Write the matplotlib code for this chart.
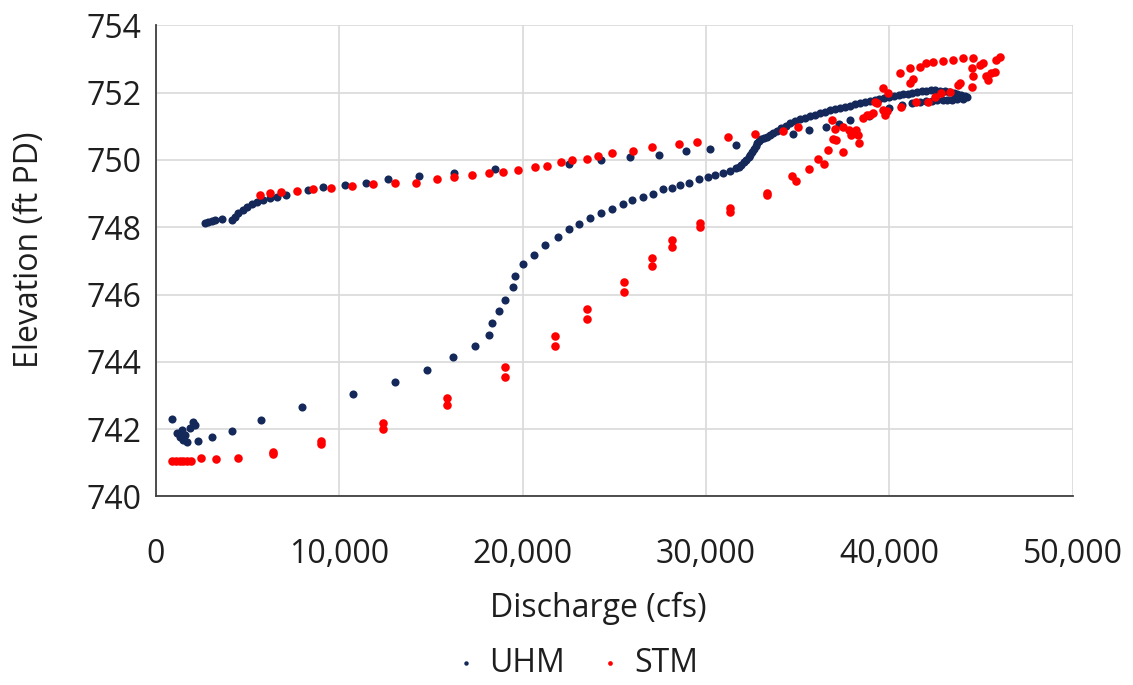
import matplotlib
matplotlib.use("Agg")
import matplotlib.pyplot as plt
from matplotlib.ticker import FuncFormatter, MultipleLocator

# discharge (cfs) / elevation (ft PD)
uhm_q = [870, 1140, 1420, 1320, 1500, 1690, 1600, 1870, 2050, 2140, 2320, 3090,
         4140, 5720, 7970, 10770, 13040, 14770, 16180, 17400, 18180, 18360,
         18710, 19050, 19490, 19580, 20030, 20630, 21230, 21940, 22540, 23080,
         23700, 24300, 24900, 25450, 25990, 26570, 27100, 27630, 28120, 28590,
         29080, 29620, 30080, 30500, 30910, 31300, 31620, 31800, 31930, 32080,
         32200, 32320, 32420, 32510, 32600, 32700, 32790, 32900, 33020, 33150,
         33300, 33480, 33660, 33880, 34110, 34340, 34570, 34840, 35110, 35380,
         35660, 35930, 36200, 36480, 36750, 37020, 37290, 37560, 37840, 38110,
         38380, 38650, 38930, 39200, 39450, 39720, 40000, 40250, 40500, 40750,
         41000, 41250, 41500, 41750, 42000, 42250, 42500, 42750, 43000, 43250,
         43500, 43700, 43900, 44100, 44200,
         44000, 43700, 43400, 43150, 42900, 42600, 42300, 42000, 41650, 41200,
         40700, 40000, 38900, 37840, 37250, 36530, 35620, 34750, 31620, 30220,
         28920, 27440, 25850, 24280, 22540, 18470, 16240, 14340, 12680, 11460,
         10320, 9130, 8320, 7100, 6590, 6230, 5860, 5500, 5230, 4960, 4740,
         4500, 4320, 4140, 3600, 3230, 3050, 2870, 2690]
uhm_z = [742.29, 741.90, 741.98, 741.78, 741.68, 741.63, 741.83, 742.03, 742.22,
         742.12, 741.66, 741.76, 741.95, 742.27, 742.67, 743.05, 743.41, 743.76,
         744.14, 744.47, 744.80, 745.15, 745.51, 745.84, 746.23, 746.56, 746.90,
         747.19, 747.46, 747.70, 747.94, 748.09, 748.28, 748.42, 748.55, 748.69,
         748.80, 748.90, 749.00, 749.13, 749.18, 749.27, 749.33, 749.43, 749.49,
         749.55, 749.62, 749.66, 749.75, 749.80, 749.85, 749.93, 750.00, 750.08,
         750.15, 750.24, 750.32, 750.41, 750.50, 750.57, 750.62, 750.66, 750.69,
         750.74, 750.79, 750.87, 750.94, 751.02, 751.09, 751.15, 751.21, 751.26,
         751.31, 751.35, 751.39, 751.43, 751.47, 751.51, 751.54, 751.58, 751.61,
         751.65, 751.69, 751.72, 751.75, 751.79, 751.82, 751.85, 751.88, 751.91,
         751.93, 751.95, 751.97, 752.00, 752.02, 752.04, 752.06, 752.07, 752.07,
         752.06, 752.05, 752.03, 752.00, 751.97, 751.93, 751.89, 751.86,
         751.80, 751.80, 751.79, 751.79, 751.78, 751.77, 751.76, 751.75, 751.73,
         751.68, 751.63, 751.54, 751.31, 751.19, 751.06, 750.97, 750.89, 750.76,
         750.43, 750.33, 750.28, 750.14, 750.08, 749.99, 749.88, 749.72, 749.62,
         749.52, 749.43, 749.33, 749.26, 749.21, 749.11, 748.96, 748.91, 748.86,
         748.81, 748.76, 748.69, 748.61, 748.51, 748.42, 748.30, 748.22, 748.24,
         748.22, 748.20, 748.17, 748.14]

stm_q = [900, 1100, 1300, 1500, 1700, 1900, 2450, 3270, 4470, 6410, 6410, 9000,
         9000, 12400, 12400, 15900, 15900, 19050, 19050, 21760, 21760, 23490,
         23490, 25520, 25520, 27030, 27030, 28120, 28120, 29660, 29660, 31330,
         31330, 33350, 33350, 34660, 34930, 35620, 36110, 36420, 36650, 36900,
         37110, 37470, 37020, 37440, 37800, 37890, 38200, 38290, 38340, 36840,
         38560, 38750, 38930, 39100, 39200, 39300, 39650, 39740, 39870, 39920,
         39650, 40600, 41470, 42100, 42500, 42800, 43300, 43740, 43830, 44470,
         40560, 41100, 41100, 41300, 41650, 42000, 42380, 42920, 43470, 44000,
         44560, 44470, 44560, 44920, 45100, 45280, 45370, 45560, 45740, 45830,
         46000,
         35020, 34170, 32660, 31170, 29480, 28530, 27060, 26030, 24880, 24120,
         23490, 22700, 22090, 21310, 20670, 19760, 18940, 18180, 17220, 16260,
         15310, 14170, 13040, 11830, 10680, 9550, 8590, 7680, 6830, 6230, 5680]
stm_z = [741.05, 741.05, 741.05, 741.05, 741.05, 741.05, 741.13, 741.10, 741.13,
         741.33, 741.26, 741.65, 741.56, 742.17, 742.00, 742.92, 742.72, 743.86,
         743.56, 744.77, 744.47, 745.56, 745.27, 746.38, 746.09, 747.10, 746.85,
         747.62, 747.41, 748.12, 748.00, 748.58, 748.46, 749.03, 748.96, 749.52,
         749.38, 749.72, 750.03, 749.88, 750.30, 750.62, 750.59, 750.25, 750.91,
         750.99, 750.89, 750.74, 750.89, 750.74, 750.50, 751.19, 751.24, 751.34,
         751.34, 751.39, 751.73, 751.68, 752.13, 751.34, 751.44, 751.98, 751.49,
         751.58, 751.73, 751.73, 751.88, 751.98, 752.03, 752.23, 752.28, 752.18,
         752.58, 752.72, 752.28, 752.40, 752.77, 752.87, 752.92, 752.95, 752.97,
         753.02, 753.02, 752.72, 752.48, 752.82, 752.87, 752.48, 752.38, 752.58,
         752.62, 752.97, 753.07,
         750.99, 750.86, 750.76, 750.67, 750.54, 750.48, 750.38, 750.28, 750.20,
         750.13, 750.03, 750.00, 749.93, 749.82, 749.78, 749.70, 749.65, 749.60,
         749.55, 749.48, 749.43, 749.33, 749.33, 749.29, 749.24, 749.18, 749.14,
         749.09, 749.04, 749.01, 748.96]

plt.rcParams['font.family'] = ['Open Sans', 'DejaVu Sans']
text_color = '#1E1E1E'

fig = plt.figure(figsize=(11.33, 6.85), dpi=100)
ax = fig.add_axes([0.1374, 0.2752, 0.8096, 0.6878])

ax.scatter(uhm_q, uhm_z, s=34, color='#14285A', linewidths=0, label='UHM', zorder=3)
ax.scatter(stm_q, stm_z, s=38, color='#FF0000', linewidths=0, label='STM', zorder=4)

ax.set_xlim(0, 50000)
ax.set_ylim(740, 754)
ax.xaxis.set_major_locator(MultipleLocator(10000))
ax.yaxis.set_major_locator(MultipleLocator(2))
ax.xaxis.set_major_formatter(FuncFormatter(lambda v, p: f"{v:,.0f}"))
ax.yaxis.set_major_formatter(FuncFormatter(lambda v, p: f"{v:.0f}"))

ax.grid(True, color='#D9D9D9', linewidth=1.2, zorder=0)
ax.set_axisbelow(True)
for side in ['top', 'right']:
    ax.spines[side].set_visible(False)
for side in ['left', 'bottom']:
    ax.spines[side].set_color('#404040')
    ax.spines[side].set_linewidth(1.3)

ax.tick_params(axis='both', length=0, labelsize=23, colors=text_color)
ax.tick_params(axis='x', pad=30)
ax.tick_params(axis='y', pad=10)

fig.text(30 / 1133, 1 - 250 / 685, 'Elevation (ft PD)', rotation=90,
         ha='center', va='center', fontsize=23, color=text_color)
fig.text(598 / 1133, 1 - 608 / 685, 'Discharge (cfs)',
         ha='center', va='center', fontsize=23, color=text_color)

fig.legend(loc='center', bbox_to_anchor=(577 / 1133, 1 - 663 / 685), ncol=2,
           frameon=False, fontsize=23, markerscale=0.55, handletextpad=0.45,
           columnspacing=1.1, handlelength=0.6, labelcolor=text_color)

fig.savefig('out.png', dpi=100)
